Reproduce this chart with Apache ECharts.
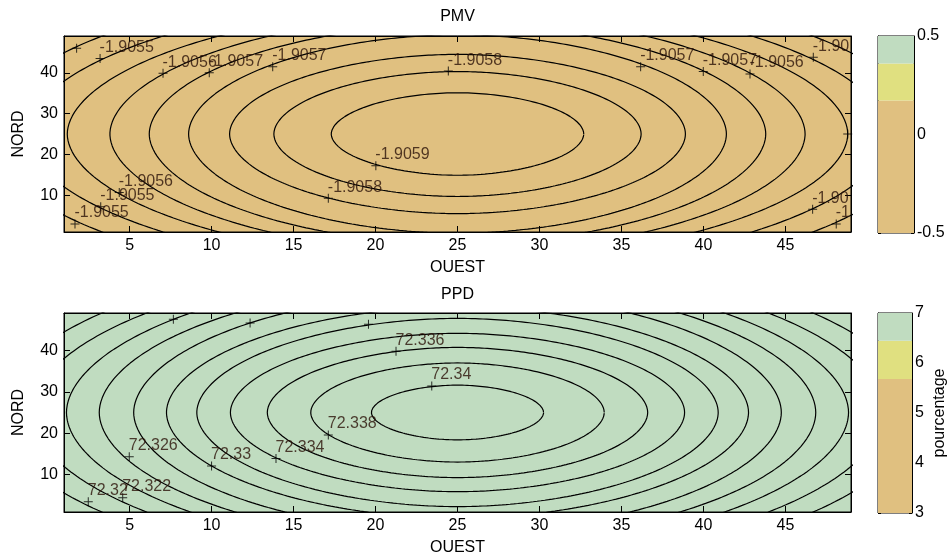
<!DOCTYPE html>
<html>
<head>
<meta charset="utf-8">
<script src="https://cdn.jsdelivr.net/npm/echarts@6/dist/echarts.min.js"></script>
<style>
html,body{margin:0;padding:0;background:#fff;}
#c{width:949px;height:560px;}
</style>
</head>
<body>
<div id="c"></div>
<script>
// ---------- data ----------
const axisMin = 1, axisMax = 49;
const xTickValues = [5, 10, 15, 20, 25, 30, 35, 40, 45];
const yTickValues = [10, 20, 30, 40];
const fieldCenter = [25, 25];
const contourShape = 1.9;   // superellipse exponent of the closed contours

// PMV contours (innermost first): level, half-width in OUEST, half-height in NORD
const pmvLevels = [-1.9059, -1.90585, -1.9058, -1.90575, -1.9057, -1.90565, -1.9056, -1.90555, -1.9055, -1.90545];
const pmvSemiX  = [7.7, 11.2, 13.9, 16.4, 18.8, 21.2, 23.8, 26.3, 28.8, 31.3];
const pmvSemiY  = [10.1, 15.3, 19.5, 24.3, 26.9, 29.2, 31.2, 34, 38, 42];

// PMV contour label markers
const pmvLabelX    = [1.77, 3.2, 7.04, 9.86, 13.73, 24.44, 36.17, 39.99, 42.84, 46.7, 48.8, 46.66, 48.1, 17.12, 20.02, 4.37, 3.24, 1.67];
const pmvLabelY    = [46.0, 43.5, 39.9, 40.0, 41.5, 40.4, 41.5, 40.3, 39.7, 43.8, 25.0, 6.56, 2.96, 9.25, 17.2, 10.7, 7.2, 2.96];
const pmvLabelText = ['', '-1.9055', '-1.9056', '-1.9057', '-1.9057', '-1.9058', '-1.9057', '-1.9057', '-1.9056', '-1.90', '', '-1.90', '-1', '-1.9058', '-1.9059', '-1.9056', '-1.9055', '-1.9055'];

// PPD contours (innermost first)
const ppdLevels = [72.34, 72.338, 72.336, 72.334, 72.332, 72.33, 72.328, 72.326, 72.324, 72.322, 72.32, 72.318];
const ppdSemiX  = [5.25, 8.95, 11.6, 13.85, 15.9, 17.75, 19.75, 21.85, 23.85, 26.0, 28.1, 30.2];
const ppdSemiY  = [6.6, 11.95, 15.7, 19.1, 22.7, 25.5, 29, 31.5, 34, 36.5, 39.5, 42.5];

// PPD contour label markers
const ppdLabelX    = [7.67, 12.35, 19.57, 21.25, 23.43, 17.12, 13.93, 10.0, 4.98, 4.58, 2.48];
const ppdLabelY    = [47.5, 46.6, 46.3, 39.8, 31.4, 19.6, 13.9, 12.1, 14.3, 4.45, 3.5];
const ppdLabelText = ['', '', '', '72.336', '72.34', '72.338', '72.334', '72.33', '72.326', '72.322', '72.32'];

// colour bars: band limits (bottom -> top) and colours
const pmvBarTicks = [-0.5, 0.5, 0.5];          // min, max, interval
const pmvBands = [[-0.5, 0.173], [0.173, 0.36], [0.36, 0.5]];
const ppdBarTicks = [3, 7, 1];
const ppdBands = [[3, 5.68], [5.68, 6.446], [6.446, 7]];
const bandColors = ['#e0c080', '#e0e080', '#c0dcc0'];

// ---------- chart ----------
const FONT = '"Liberation Sans", Arial, sans-serif';
const TXT = {fontFamily: FONT, fontSize: 16, color: '#000'};

function contourPoints(a, b) {
  const pts = [];
  const N = 400, e = 2 / contourShape;
  for (let i = 0; i <= N; i++) {
    const t = i / N * 2 * Math.PI;
    const c = Math.cos(t), s = Math.sin(t);
    pts.push([fieldCenter[0] + a * Math.sign(c) * Math.pow(Math.abs(c), e),
              fieldCenter[1] + b * Math.sign(s) * Math.pow(Math.abs(s), e)]);
  }
  return pts;
}

function contourSeries(semiX, semiY, levels, xi, yi) {
  return semiX.map((a, k) => ({
    type: 'line', name: String(levels[k]), xAxisIndex: xi, yAxisIndex: yi,
    data: contourPoints(a, semiY[k]), showSymbol: false, symbol: 'none',
    lineStyle: {color: '#000', width: 1.2}, clip: true, silent: true, z: 3
  }));
}

const PLUS = 'path://M4,0 L5,0 L5,9 L4,9 Z M0,4 L9,4 L9,5 L0,5 Z';
function labelSeries(xs, ys, texts, xi, yi) {
  return {
    type: 'scatter', xAxisIndex: xi, yAxisIndex: yi, silent: true, z: 5,
    symbol: PLUS, symbolSize: 9, itemStyle: {color: '#000'},
    data: xs.map((x, i) => [x, ys[i]]),
    label: {
      show: true, position: [4, -6.5], align: 'left', verticalAlign: 'middle',
      fontFamily: FONT, fontSize: 16, color: '#2a1208',
      formatter: p => texts[p.dataIndex]
    }
  };
}

function bandSeries(bands, xi, yi) {
  return {
    type: 'line', xAxisIndex: xi, yAxisIndex: yi, data: [], silent: true,
    markArea: {
      silent: true,
      data: bands.map((b, i) => [{yAxis: b[0], itemStyle: {color: bandColors[i], opacity: 1}}, {yAxis: b[1]}])
    }
  };
}

const grids = [
  {left: 64, top: 36, width: 787, height: 196},
  {left: 64, top: 313, width: 787, height: 199},
  {left: 878, top: 36, width: 36, height: 197},
  {left: 878, top: 313, width: 36, height: 200}
];

function mainX(gi, pos, labels, name) {
  return {
    type: 'value', gridIndex: gi, position: pos, min: axisMin, max: axisMax,
    name: name || '', nameLocation: 'middle', nameGap: 28, nameTextStyle: TXT,
    axisLine: {show: true, onZero: false, lineStyle: {color: '#000', width: 1}},
    axisTick: {show: true, inside: true, length: 6, lineStyle: {color: '#000'}, customValues: xTickValues},
    axisLabel: {show: labels, margin: 6, ...TXT, customValues: xTickValues},
    splitLine: {show: false}
  };
}
function mainY(gi, pos, labels, name) {
  return {
    type: 'value', gridIndex: gi, position: pos, min: axisMin, max: axisMax,
    name: name || '', nameLocation: 'middle', nameGap: 37, nameTextStyle: TXT,
    axisLine: {show: true, onZero: false, lineStyle: {color: '#000', width: 1}},
    axisTick: {show: true, inside: true, length: 6, lineStyle: {color: '#000'}, customValues: yTickValues},
    axisLabel: {show: labels, margin: 6, ...TXT, customValues: yTickValues},
    splitLine: {show: false}
  };
}
function barY(gi, pos, t, labels, name) {
  return {
    type: 'value', gridIndex: gi, position: pos, min: t[0], max: t[1], interval: t[2],
    name: name || '', nameLocation: 'middle', nameGap: 20, nameTextStyle: TXT,
    axisLine: {show: true, onZero: false, lineStyle: {color: '#000', width: 1}},
    axisTick: {show: true, inside: true, length: 3, lineStyle: {color: '#000'}},
    axisLabel: {show: labels, margin: 3, ...TXT},
    splitLine: {show: false}
  };
}
function hiddenX(gi) {
  return {type: 'value', gridIndex: gi, min: 0, max: 1, show: false};
}

const option = {
  animation: false,
  backgroundColor: '#fff',
  grid: [
    {...grids[0], show: true, backgroundColor: bandColors[0], borderColor: '#000', borderWidth: 1},
    {...grids[1], show: true, backgroundColor: bandColors[2], borderColor: '#000', borderWidth: 1},
    {...grids[2], show: true, backgroundColor: 'transparent', borderColor: '#000', borderWidth: 1},
    {...grids[3], show: true, backgroundColor: 'transparent', borderColor: '#000', borderWidth: 1}
  ],
  xAxis: [
    mainX(0, 'bottom', true, 'OUEST'), mainX(0, 'top', false),
    mainX(1, 'bottom', true, 'OUEST'), mainX(1, 'top', false),
    hiddenX(2), hiddenX(3)
  ],
  yAxis: [
    mainY(0, 'left', true, 'NORD'), mainY(0, 'right', false),
    mainY(1, 'left', true, 'NORD'), mainY(1, 'right', false),
    barY(2, 'right', pmvBarTicks, true), barY(2, 'left', pmvBarTicks, false),
    barY(3, 'right', ppdBarTicks, true, 'pourcentage'), barY(3, 'left', ppdBarTicks, false)
  ],
  graphic: [
    {type: 'text', x: 457.5, y: 17, style: {text: 'PMV', align: 'center', verticalAlign: 'middle', font: '16px ' + FONT, fill: '#000'}},
    {type: 'text', x: 457.5, y: 294.5, style: {text: 'PPD', align: 'center', verticalAlign: 'middle', font: '16px ' + FONT, fill: '#000'}}
  ],
  series: [
    ...contourSeries(pmvSemiX, pmvSemiY, pmvLevels, 0, 0),
    labelSeries(pmvLabelX, pmvLabelY, pmvLabelText, 0, 0),
    ...contourSeries(ppdSemiX, ppdSemiY, ppdLevels, 2, 2),
    labelSeries(ppdLabelX, ppdLabelY, ppdLabelText, 2, 2),
    bandSeries(pmvBands, 4, 4),
    bandSeries(ppdBands, 5, 6)
  ]
};

const chart = echarts.init(document.getElementById('c'));
chart.setOption(option);
</script>
</body>
</html>
